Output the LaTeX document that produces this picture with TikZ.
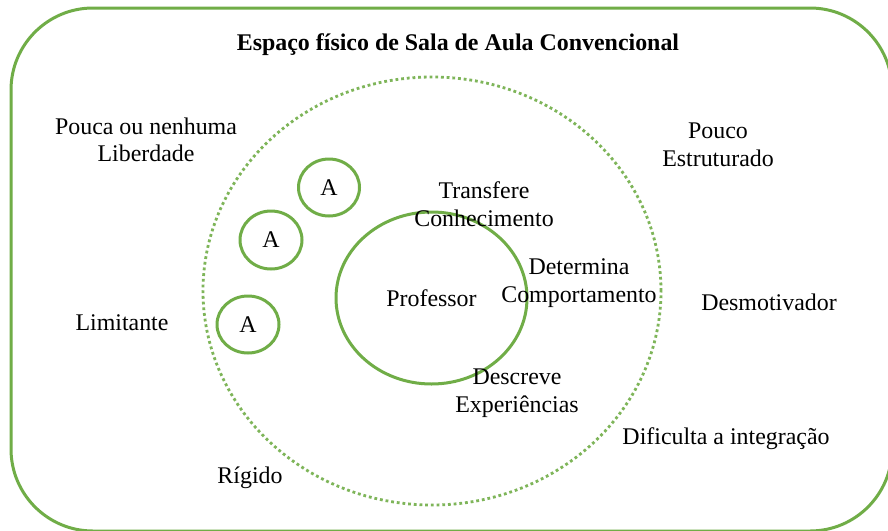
\documentclass[tikz,border=0pt]{standalone}
\usepackage{fontspec}
\setmainfont{Liberation Serif}
\usetikzlibrary{shapes.geometric}
\definecolor{grn}{HTML}{70AD47}
\begin{document}
\begin{tikzpicture}[x=1pt,y=-1pt,
  txt/.style={align=center,inner sep=0pt,font=\fontsize{23.9}{27.5}\selectfont},
  ttl/.style={align=center,inner sep=0pt,font=\fontsize{23.9}{27.5}\selectfont\bfseries},
  ring/.style={ellipse,draw=grn,line width=3pt,inner sep=0pt,align=center,font=\fontsize{23.9}{27.5}\selectfont},
  dotring/.style={ellipse,draw=grn!90,line width=2.8pt,dash pattern=on 2.8pt off 2.9pt,inner sep=0pt}]
\useasboundingbox (0,0) rectangle (888,530);
\clip (0,0) rectangle (888,530);
\fill[white] (0,0) rectangle (888,530);
\draw[grn,line width=3pt,rounded corners=82pt] (11,8) rectangle (892,531);
\node[ttl] (title) at (458,45) {Espaço físico de Sala de Aula Convencional};
\node[dotring,minimum width=458,minimum height=428] (space) at (432,291) {};
\node[ring,minimum width=191,minimum height=172] (prof) at (431.5,298) {Professor};
\node[ring,minimum width=61,minimum height=57] (a1) at (329,187.5) {A};
\node[ring,minimum width=62,minimum height=58] (a2) at (271,240) {A};
\node[ring,minimum width=62,minimum height=57] (a3) at (248,324.5) {A};
\node[txt] (liberdade) at (146,140) {Pouca ou nenhuma\\Liberdade};
\node[txt] (estrut) at (718,145) {Pouco\\Estruturado};
\node[txt] (transf) at (484,204) {Transfere\\Conhecimento};
\node[txt] (determ) at (579,283) {Determina\\Comportamento};
\node[txt] (desmot) at (769,302) {Desmotivador};
\node[txt] (limit) at (122,323) {Limitante};
\node[txt] (descr) at (517,393) {Descreve\\Experiências};
\node[txt] (dific) at (726,439) {Dificulta a integração};
\node[txt] (rigido) at (250,478) {Rígido};
\end{tikzpicture}
\end{document}
